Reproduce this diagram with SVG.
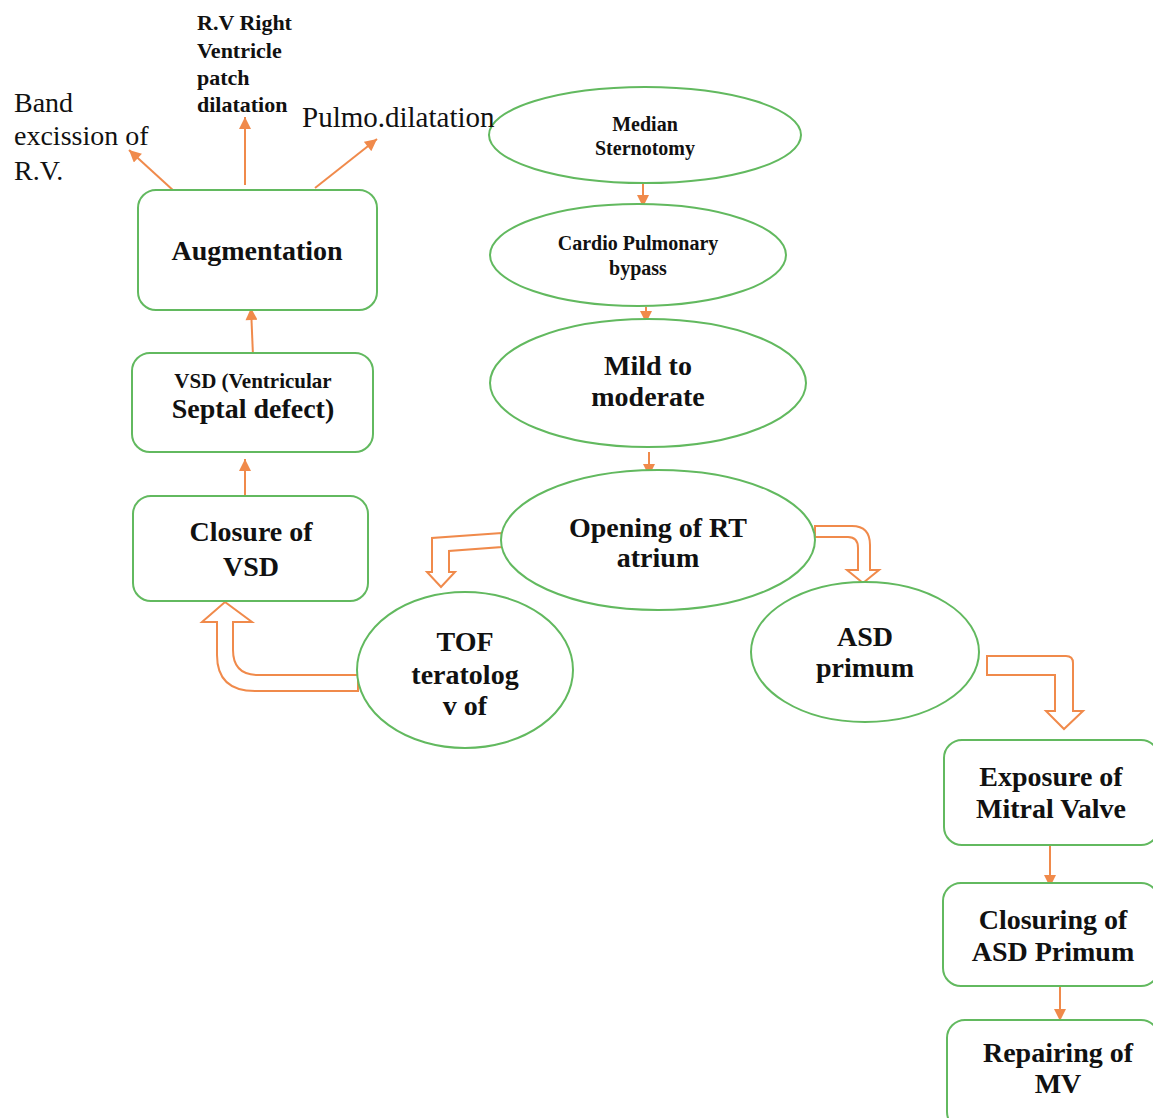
<svg xmlns="http://www.w3.org/2000/svg" width="1153" height="1118" viewBox="0 0 1153 1118">
<style>
.n{fill:#fff;stroke:#62b95f;stroke-width:2}
.t{font-family:"Liberation Serif","Times New Roman",serif;font-weight:bold;fill:#111;text-anchor:middle}
.l{font-family:"Liberation Serif","Times New Roman",serif;fill:#111}
.c{stroke:#f08a4b;stroke-width:2;fill:none}
.b{fill:#fff;stroke:#f08a4b;stroke-width:2;stroke-linejoin:miter}
</style>
<defs>
<marker id="ah" viewBox="0 0 10 10" refX="10" refY="5" markerWidth="13" markerHeight="12" markerUnits="userSpaceOnUse" orient="auto"><path d="M0,0 L10,5 L0,10 Z" fill="#f08a4b"/></marker>
</defs>
<rect width="1153" height="1118" fill="#fff"/>
<g id="connectors">
<line class="c" x1="643" y1="184" x2="643" y2="207" marker-end="url(#ah)"/>
<line class="c" x1="646" y1="307" x2="646" y2="323" marker-end="url(#ah)"/>
<line class="c" x1="649" y1="452" x2="649" y2="476" marker-end="url(#ah)"/>
<line class="c" x1="245" y1="496" x2="245" y2="459" marker-end="url(#ah)"/>
<line class="c" x1="253" y1="356" x2="251" y2="308" marker-end="url(#ah)"/>
<line class="c" x1="175" y1="192" x2="129" y2="150" marker-end="url(#ah)"/>
<line class="c" x1="245" y1="185" x2="245" y2="117" marker-end="url(#ah)"/>
<line class="c" x1="315" y1="188" x2="377" y2="139" marker-end="url(#ah)"/>
<line class="c" x1="1050" y1="845" x2="1050" y2="887" marker-end="url(#ah)"/>
<line class="c" x1="1060" y1="986" x2="1060" y2="1021" marker-end="url(#ah)"/>
<path class="b" d="M502,533 L432,538 L432,572 L427,572 L441,587 L455,572 L449,572 L449,551 L502,547 Z"/>
<path class="b" d="M358,675 L258,675 Q233,675 233,650 L233,622 L252,622 L225,602 L202,622 L217,622 L217,655 Q217,691 255,691 L358,691 Z"/>
<path class="b" d="M815,526 L852,526 Q870,526 870,545 L870,570 L879,570 L863,583 L847,570 L858,570 L858,548 Q858,537 848,537 L815,537 Z"/>
<path class="b" d="M987,656 L1066,656 Q1073,656 1073,663 L1073,711 L1083,711 L1064,729 L1046,711 L1055,711 L1055,675 L987,675 Z"/>
</g>
<g id="median"><ellipse class="n" cx="645" cy="135" rx="156" ry="48"/>
<text class="t" font-size="20" x="645" y="131">Median</text><text class="t" font-size="20" x="645" y="155">Sternotomy</text></g>
<g id="cpb"><ellipse class="n" cx="638" cy="255" rx="148" ry="51"/>
<text class="t" font-size="20" x="638" y="250">Cardio Pulmonary</text><text class="t" font-size="20" x="638" y="275">bypass</text></g>
<g id="mild"><ellipse class="n" cx="648" cy="383" rx="158" ry="64"/>
<text class="t" font-size="28" x="648" y="375">Mild to</text><text class="t" font-size="28" x="648" y="406">moderate</text></g>
<g id="opening"><ellipse class="n" cx="658" cy="540" rx="157" ry="70"/>
<text class="t" font-size="28" x="658" y="537">Opening of RT</text><text class="t" font-size="28" x="658" y="567">atrium</text></g>
<g id="asd"><ellipse class="n" cx="865" cy="652" rx="114" ry="70"/>
<text class="t" font-size="28" x="865" y="646">ASD</text><text class="t" font-size="28" x="865" y="677">primum</text></g>
<g id="tof"><ellipse class="n" cx="465" cy="670" rx="108" ry="78"/>
<text class="t" font-size="28" x="465" y="651">TOF</text><text class="t" font-size="28" x="465" y="684">teratolog</text><text class="t" font-size="28" x="465" y="715">v of</text></g>
<g id="augmentation"><rect class="n" x="138" y="190" width="239" height="120" rx="18"/>
<text class="t" font-size="28" x="257" y="260">Augmentation</text></g>
<g id="vsd"><rect class="n" x="132" y="353" width="241" height="99" rx="18"/>
<text class="t" font-size="21" x="253" y="388">VSD (Ventricular</text><text class="t" font-size="28" x="253" y="418">Septal defect)</text></g>
<g id="closure-vsd"><rect class="n" x="133" y="496" width="235" height="105" rx="18"/>
<text class="t" font-size="28" x="251" y="541">Closure of</text><text class="t" font-size="28" x="251" y="576">VSD</text></g>
<g id="exposure"><rect class="n" x="944" y="740" width="215" height="105" rx="18"/>
<text class="t" font-size="28" x="1051" y="786">Exposure of</text><text class="t" font-size="28" x="1051" y="818">Mitral Valve</text></g>
<g id="closuring"><rect class="n" x="943" y="883" width="216" height="103" rx="18"/>
<text class="t" font-size="28" x="1053" y="929">Closuring of</text><text class="t" font-size="28" x="1053" y="961">ASD Primum</text></g>
<g id="repairing"><rect class="n" x="947" y="1020" width="212" height="110" rx="18"/>
<text class="t" font-size="28" x="1058" y="1062">Repairing of</text><text class="t" font-size="28" x="1058" y="1093">MV</text></g>
<g id="band"><text class="l" font-size="28" x="14" y="112">Band</text><text class="l" font-size="28" x="14" y="145">excission of</text><text class="l" font-size="28" x="14" y="180">R.V.</text></g>
<g id="rv-patch"><text class="l" font-size="22" font-weight="bold" x="197" y="30">R.V Right</text><text class="l" font-size="22" font-weight="bold" x="197" y="58">Ventricle</text><text class="l" font-size="22" font-weight="bold" x="197" y="85">patch</text><text class="l" font-size="22" font-weight="bold" x="197" y="112">dilatation</text></g>
<g id="pulmo"><text class="l" font-size="29" x="302" y="127">Pulmo.dilatation</text></g>
</svg>
